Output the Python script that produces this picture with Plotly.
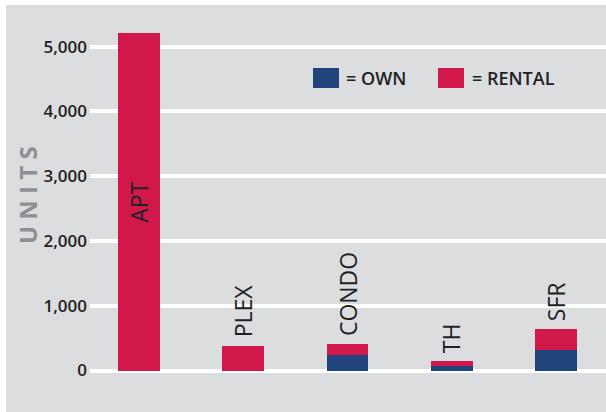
import plotly.graph_objects as go

categories = ["APT", "PLEX", "CONDO", "TH", "SFR"]
own_units = [0, 0, 240, 70, 310]
rental_units = [5210, 385, 175, 70, 335]
y_ticks = [0, 1000, 2000, 3000, 4000, 5000]
y_tick_labels = ["0", "1,000", "2,000", "3,000", "4,000", "5,000"]

RED = "#d0194a"
BLUE = "#22447c"
BG = "#dcdddf"

# plot-area geometry (px) used to convert legend/frame positions to paper coords
W, H = 606, 412
ML, MR, MT, MB = 90, 0, 20, 30
PW, PH = W - ML - MR, H - MT - MB


def px_x(x):
    return (x - ML) / PW


def px_y(y):
    return (H - MB - y) / PH


fig = go.Figure()
fig.add_trace(go.Bar(x=categories, y=own_units, marker=dict(color=BLUE, line=dict(width=0)),
                     width=0.4, name="OWN", showlegend=False))
fig.add_trace(go.Bar(x=categories, y=rental_units, marker=dict(color=RED, line=dict(width=0)),
                     width=0.4, name="RENTAL", showlegend=False))

annotations = []
for c, o, r in zip(categories, own_units, rental_units):
    total = o + r
    if total > 2000:
        annotations.append(dict(x=c, y=total / 2, xref="x", yref="y", text=c, textangle=-90,
                                showarrow=False, xanchor="center", yanchor="middle",
                                font=dict(family="Open Sans", size=23, color="#222222")))
    else:
        annotations.append(dict(x=c, y=total, xref="x", yref="y", text=c, textangle=-90,
                                showarrow=False, xanchor="center", yanchor="bottom", yshift=6,
                                font=dict(family="Open Sans", size=23, color="#222222")))

# axis title
annotations.append(dict(x=px_x(27), y=px_y(195), xref="paper", yref="paper",
                        text="U N I T S",
                        textangle=-90, showarrow=False, xanchor="center", yanchor="middle",
                        font=dict(family="Open Sans", size=24, color="#8e8f92", weight=700)))
# legend texts
annotations.append(dict(x=px_x(344), y=px_y(78), xref="paper", yref="paper", text="= OWN",
                        showarrow=False, xanchor="left", yanchor="middle",
                        font=dict(family="Open Sans", size=18, color="#222222", weight=600)))
annotations.append(dict(x=px_x(470), y=px_y(78), xref="paper", yref="paper", text="= RENTAL",
                        showarrow=False, xanchor="left", yanchor="middle",
                        font=dict(family="Open Sans", size=18, color="#222222", weight=600)))

shapes = [
    # white frame strips (top and left)
    dict(type="rect", xref="paper", yref="paper", x0=px_x(0), x1=px_x(W), y0=px_y(0), y1=px_y(5),
         fillcolor="white", line=dict(width=0), layer="above"),
    dict(type="rect", xref="paper", yref="paper", x0=px_x(0), x1=px_x(6), y0=px_y(0), y1=px_y(H),
         fillcolor="white", line=dict(width=0), layer="above"),
    # legend swatches
    dict(type="rect", xref="paper", yref="paper", x0=px_x(313), x1=px_x(339), y0=px_y(88), y1=px_y(68),
         fillcolor=BLUE, line=dict(width=0)),
    dict(type="rect", xref="paper", yref="paper", x0=px_x(438), x1=px_x(464), y0=px_y(88), y1=px_y(68),
         fillcolor=RED, line=dict(width=0)),
]

y_bottom = -(H - MB - 370.5) / 64.76 * 1000
y_top = (370.5 - MT) / 64.76 * 1000

fig.update_layout(
    width=W, height=H,
    margin=dict(l=ML, r=MR, t=MT, b=MB),
    paper_bgcolor=BG, plot_bgcolor=BG,
    barmode="stack",
    showlegend=False,
    annotations=annotations,
    shapes=shapes,
    xaxis=dict(range=[-0.47, 4.48], showticklabels=False, showgrid=False, zeroline=False,
               showline=False, ticks="", fixedrange=True),
    yaxis=dict(range=[y_bottom, y_top], tickvals=y_ticks, ticktext=y_tick_labels,
               showgrid=True, gridcolor="white", gridwidth=3.5,
               zeroline=True, zerolinecolor="white", zerolinewidth=3.5,
               showline=False, ticks="", ticklabelstandoff=2,
               tickfont=dict(family="Open Sans", size=17, color="#222222", weight=600)),
)

fig.write_html("out.html")
